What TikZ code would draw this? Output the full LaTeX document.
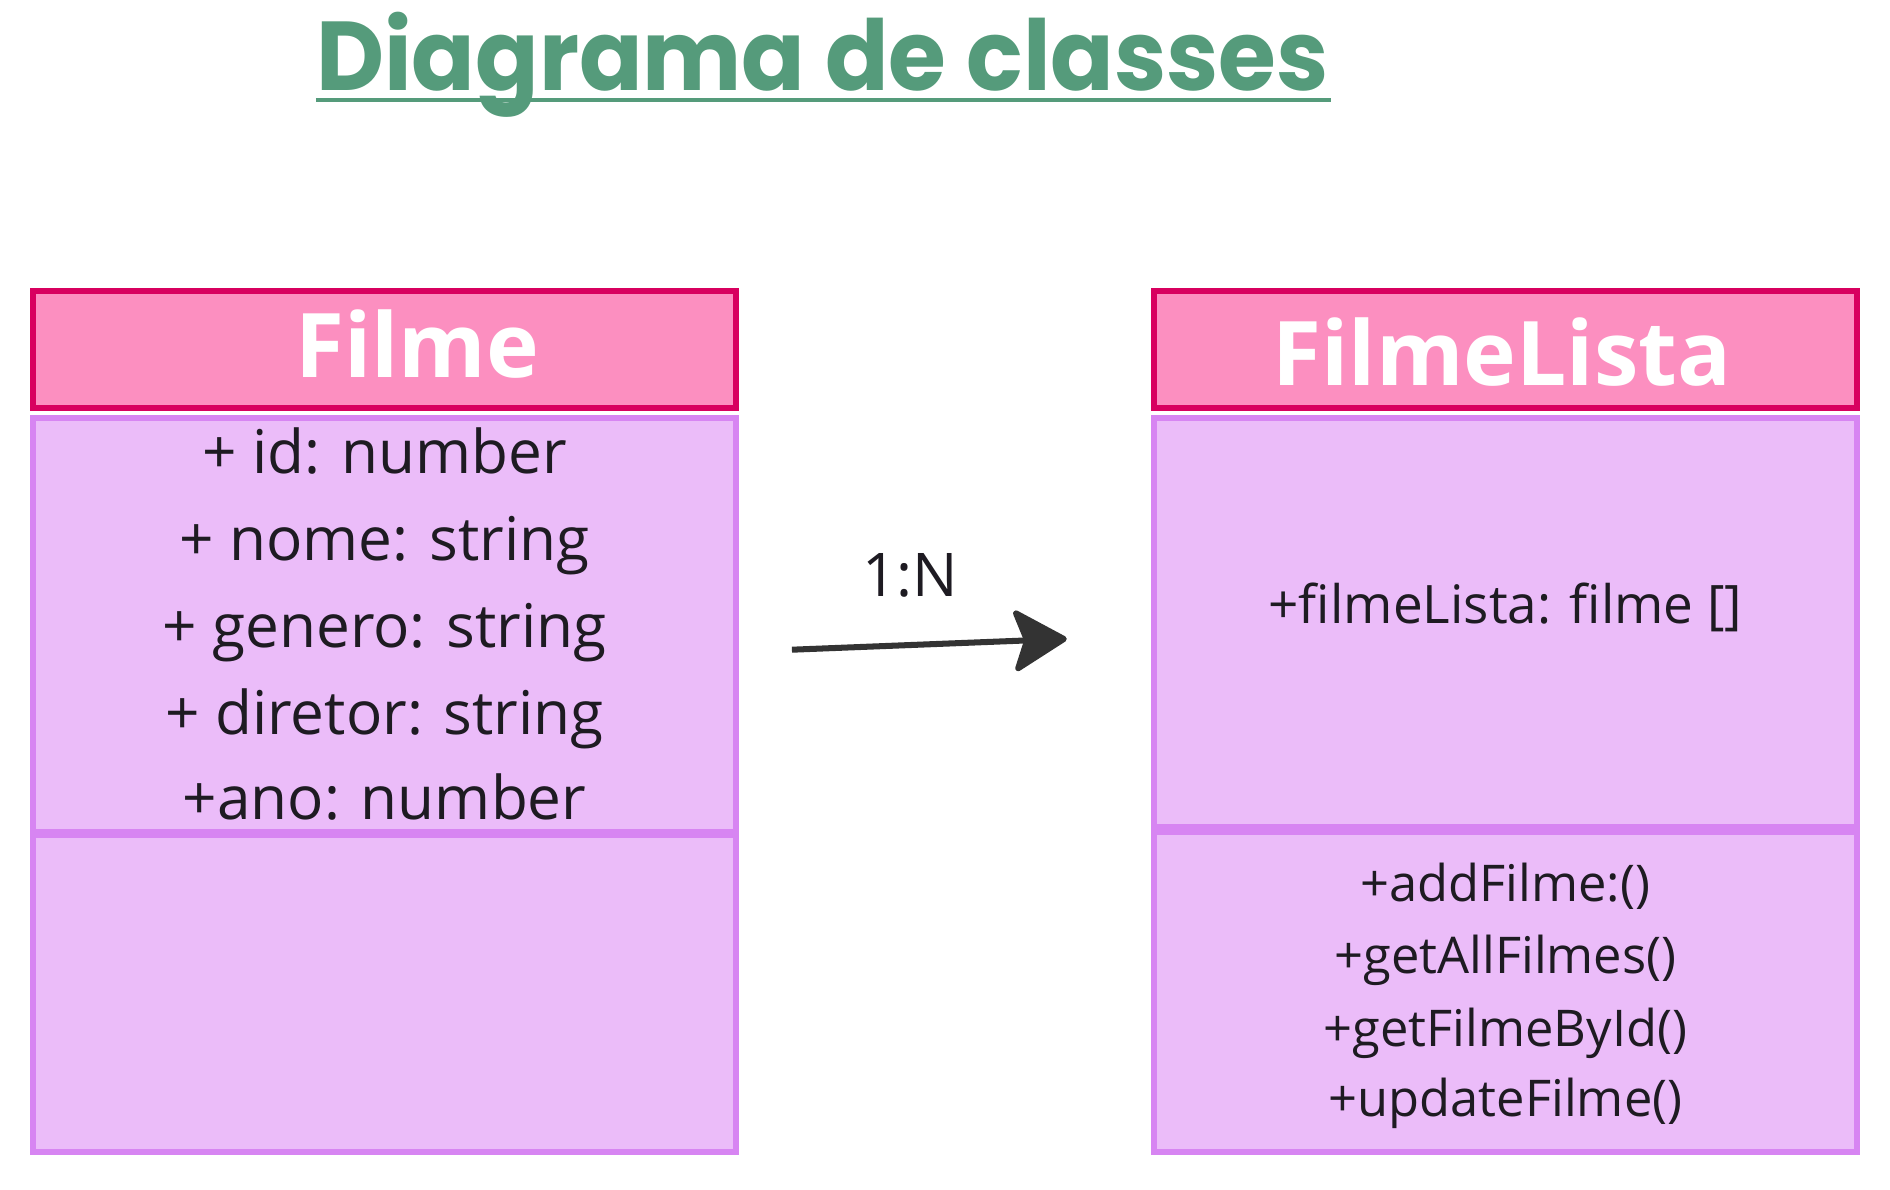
\documentclass[tikz,border=0pt]{standalone}
\usepackage{fontspec}
\setmainfont{Open Sans}
\newfontfamily\titlefont{Poppins}
\usepackage{xcolor}
\usetikzlibrary{positioning,arrows.meta}

\definecolor{titlegreen}{HTML}{559B7B}
\definecolor{headfill}{HTML}{FC8FC0}
\definecolor{headline}{HTML}{D8005F}
\definecolor{bodyfill}{HTML}{EBBCF9}
\definecolor{bodyline}{HTML}{D785F2}
\definecolor{ink}{HTML}{1E1B22}
\definecolor{arrowgray}{HTML}{333333}

\tikzset{
  headbox/.style={draw=headline, fill=headfill, line width=2.5pt,
    minimum width=291.5pt, minimum height=48.5pt, inner sep=0pt},
  bodybox/.style={draw=bodyline, fill=bodyfill, line width=2.5pt,
    minimum width=291.5pt, inner sep=0pt},
  headtext/.style={text=white, font=\fontsize{37}{40}\selectfont\bfseries, anchor=base, inner sep=0pt},
  attrtext/.style={text=ink, font=\fontsize{25}{30}\selectfont, anchor=base, inner sep=0pt},
  fieldtext/.style={text=ink, font=\fontsize{22}{26}\selectfont, anchor=base, inner sep=0pt},
  methtext/.style={text=ink, font=\fontsize{21}{25}\selectfont, anchor=base, inner sep=0pt},
}

\begin{document}
\begin{tikzpicture}[x=0.5pt, y=-0.5pt]
    \useasboundingbox (0,0) rectangle (1568,987);

    % Title
    \node[anchor=base west, inner sep=0pt, text=titlegreen] (title) at (262,75)
        {\resizebox{420pt}{32.5pt}{\titlefont\bfseries Diagrama de classes}};
    \draw[titlegreen, line width=2pt] (262,83) -- (1104,83);

    % Filme class
    \node[headbox] (filme) at (319,290) {};
    \node[bodybox, minimum height=171.75pt] (filmeattr) at (319,518.25) {};
    \node[bodybox, minimum height=131.25pt] (filmemeth) at (319,824.25) {};
    \node[headtext] (filmename) at (346,313) {Filme};
    \node[attrtext] (id) at (319,393) {+ id: number};
    \node[attrtext] (nome) at (319,465) {+ nome: string};
    \node[attrtext] (genero) at (319,537) {+ genero: string};
    \node[attrtext] (diretor) at (319,609) {+ diretor: string};
    \node[attrtext] (ano) at (319,680) {+ano: number};

    % FilmeLista class
    \node[headbox] (lista) at (1249,290) {};
    \node[bodybox, minimum height=170pt] (listaattr) at (1249,516.5) {};
    \node[bodybox, minimum height=132.5pt] (listameth) at (1249,823) {};
    \node[headtext] (listaname) at (1246,320) {FilmeLista};
    \node[fieldtext] (listafield) at (1249,517) {+filmeLista: filme []};
    \node[methtext] (add) at (1249,748) {+addFilme:()};
    \node[methtext] (getall) at (1249,808) {+getAllFilmes()};
    \node[methtext] (getbyid) at (1249,868) {+getFilmeById()};
    \node[methtext] (update) at (1249,926) {+updateFilme()};

    % Relation
    \coordinate (from) at (657,539);
    \coordinate (to) at (885,530);
    \draw[arrowgray, line width=2.5pt, -{Stealth[length=24pt, width=28pt, inset=5pt, round]}] (from) -- (to);
    \node[attrtext] (card) at (755,495) {1:N};
\end{tikzpicture}
\end{document}
